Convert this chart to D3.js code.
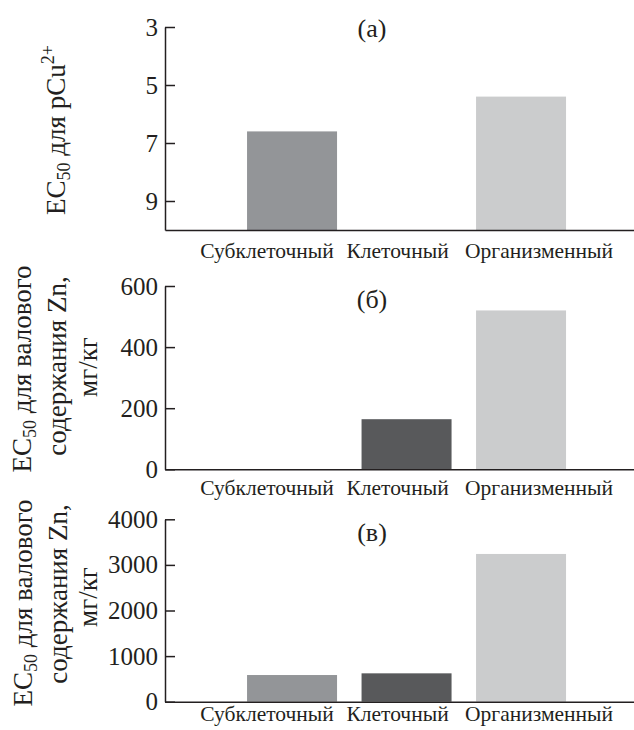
<!DOCTYPE html>
<html>
<head>
<meta charset="utf-8">
<script src="https://cdn.jsdelivr.net/npm/d3@7"></script>
<style>
  body { margin: 0; background: #fff; }
  text { font-family: "Liberation Serif", "Times New Roman", serif; fill: #231f20; }
</style>
</head>
<body>
<div id="chart"></div>
<script>
// data
var categories = ["Субклеточный", "Клеточный", "Организменный"];
var colors = ["#939598", "#58595b", "#cbcccd"];

var cuValues = [6.6, null, 5.4];          // (а) EC50, pCu2+
var znCellValues = [null, 164, 520];      // (б)
var znTotalValues = [585, 622, 3240];     // (в)

var cuTicks = [3, 5, 7, 9];
var znCellTicks = [0, 200, 400, 600];
var znTotalTicks = [0, 1000, 2000, 3000, 4000];

var width = 634, height = 730;
var left = 165;

var svg = d3.select("#chart")
  .append("svg")
    .attr("width", width)
    .attr("height", height);

// shared x scale for the three panels
var x = d3.scaleBand()
  .domain(categories)
  .range([0, width - left])
  .paddingInner(0.214)
  .paddingOuter(0.655)
  .align(0.547);

// label offsets so the words sit like a line of text
var labelShift = [-25, -9, 18];

function panel(cfg) {
  var y = d3.scaleLinear()
    .domain(cfg.domain)
    .range([cfg.bottom, cfg.top]);
  if (cfg.reversed) y.range([cfg.top, cfg.bottom]);

  var g = svg.append("g")
    .attr("transform", "translate(" + left + ",0)");

  var base = y(cfg.base);

  // bars
  g.selectAll("rect")
    .data(cfg.values.map(function(v, i) { return {cat: categories[i], v: v, c: colors[i]}; })
      .filter(function(d) { return d.v != null; }))
    .join("rect")
    .attr("x", d => x(d.cat))
    .attr("width", x.bandwidth())
    .attr("y", d => y(d.v))
    .attr("height", d => base - y(d.v))
    .attr("fill", d => d.c);

  // y axis, ticks pointing inward
  var ya = g.append("g")
    .call(d3.axisLeft(y).tickValues(cfg.ticks).tickFormat(d3.format("d"))
      .tickSize(-10).tickSizeOuter(0).tickPadding(7));
  ya.selectAll("text").style("font-size", "25px").attr("fill", "#231f20");
  ya.selectAll("line").attr("stroke", "#231f20").attr("stroke-width", 1.5);
  ya.select(".domain").attr("stroke", "#231f20").attr("stroke-width", 1.5);

  // x axis
  var xa = g.append("g")
    .attr("transform", "translate(0," + base + ")")
    .call(d3.axisBottom(x).tickSize(0).tickSizeOuter(0).tickPadding(cfg.labelPad));
  xa.selectAll("text")
    .style("font-size", "21.5px")
    .attr("fill", "#231f20")
    .attr("dx", (d, i) => labelShift[i]);
  xa.select(".domain").attr("stroke", "#231f20").attr("stroke-width", 1.5);

  // panel letter
  svg.append("text")
    .attr("x", 372)
    .attr("y", cfg.titleY)
    .attr("text-anchor", "middle")
    .style("font-size", "26px")
    .text(cfg.title);

  // y label
  var lab = svg.append("g");
  cfg.label.forEach(function(line) {
    var t = lab.append("text")
      .attr("transform", "translate(" + line.x + "," + line.y + ") rotate(-90)")
      .attr("text-anchor", "middle")
      .style("font-size", "27px");
    line.parts.forEach(function(p) {
      var s = t.append("tspan").text(p.t);
      if (p.sub) s.style("font-size", "18px").attr("dy", 5);
      else if (p.sup) s.style("font-size", "18px").attr("dy", -11);
      else if (p.back) s.attr("dy", p.back);
    });
  });
}

panel({
  values: cuValues, ticks: cuTicks, domain: [3, 10], reversed: true, base: 10,
  top: 27, bottom: 230, labelPad: 13, title: "(а)", titleY: 37,
  label: [{x: 65, y: 130, parts: [{t: "EC"}, {t: "50", sub: true}, {t: " для pCu", back: -5}, {t: "2+", sup: true}]}]
});

panel({
  values: znCellValues, ticks: znCellTicks, domain: [0, 600], base: 0,
  top: 286, bottom: 469.3, labelPad: 10, title: "(б)", titleY: 308,
  label: [
    {x: 31, y: 369, parts: [{t: "EC"}, {t: "50", sub: true}, {t: " для валового", back: -5}]},
    {x: 66, y: 366, parts: [{t: "содержания Zn,"}]},
    {x: 97, y: 367, parts: [{t: "мг/кг"}]}
  ]
});

panel({
  values: znTotalValues, ticks: znTotalTicks, domain: [0, 4000], base: 0,
  top: 519.3, bottom: 701.7, labelPad: 4, title: "(в)", titleY: 541,
  label: [
    {x: 32, y: 603, parts: [{t: "EC"}, {t: "50", sub: true}, {t: " для валового", back: -5}]},
    {x: 67, y: 594, parts: [{t: "содержания Zn,"}]},
    {x: 97, y: 597, parts: [{t: "мг/кг"}]}
  ]
});
</script>
</body>
</html>
